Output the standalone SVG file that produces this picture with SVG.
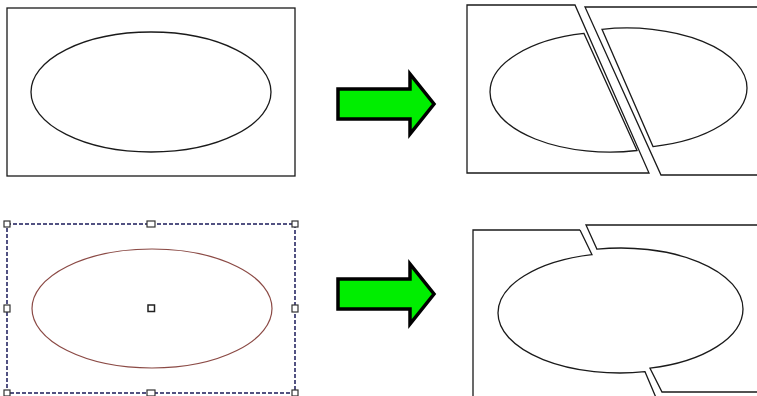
<svg xmlns="http://www.w3.org/2000/svg" width="757" height="396" viewBox="0 0 757 396">
<defs>
<style>
.ln{fill:none;stroke:#1a1a1a;stroke-width:1.3}
.pc{fill:#fff;stroke:#1a1a1a;stroke-width:1.3}
.sel{fill:none;stroke:#1a1a5a;stroke-width:1.5;stroke-dasharray:4 2}
.hd{fill:#fff;stroke:#333;stroke-width:1.2}
.arr{fill:#00ee00;stroke:#000;stroke-width:3.5;stroke-linejoin:miter}
.red{fill:none;stroke:#8b4a45;stroke-width:1.2}
</style>
<polygon id="arrowShape" points="0,15 72,15 72,0 96,30 72,60 72,45 0,45"/>
</defs>
<rect width="757" height="396" fill="#fff"/>

<g id="original">
<rect class="pc" x="7" y="8" width="288" height="168"/>
<ellipse class="ln" cx="151" cy="92" rx="120" ry="60"/>
</g>

<g id="split-diagonal">
<polygon class="pc" points="467,5 575,5 649,173 467,173"/>
<path class="ln" d="M584 33.4 A120 60 0 0 0 490 92 A120 60 0 0 0 637 150.5 Z"/>
<path class="pc" d="M760 7 L585 7 L661 175 L760 175"/>
<path class="ln" d="M602 29.3 A120 60 0 0 1 747 88 A120 60 0 0 1 653 146.6 Z"/>
</g>

<g id="selected">
<rect class="sel" x="7" y="224" width="288" height="169"/>
<ellipse class="red" cx="152" cy="308.5" rx="120" ry="59.5"/>
<rect class="hd" x="4" y="221" width="6" height="6"/>
<rect class="hd" x="147" y="221" width="8" height="6"/>
<rect class="hd" x="292" y="221" width="6" height="6"/>
<rect class="hd" x="4" y="305" width="6" height="7"/>
<rect class="hd" x="292" y="305" width="6" height="7"/>
<rect class="hd" x="4" y="390" width="6" height="6"/>
<rect class="hd" x="147" y="390" width="8" height="6"/>
<rect class="hd" x="292" y="390" width="6" height="6"/>
<rect x="148" y="305" width="6.5" height="6.5" fill="#fff" stroke="#222" stroke-width="1.5"/>
</g>

<g id="split-zigzag">
<path class="ln" d="M580 230 L473 230 L473 400"/>
<path class="ln" d="M580 230 L592 254.6 A122 60 0 0 0 498 313 A122 60 0 0 0 645 371.7 L657 400"/>
<path class="ln" d="M760 225 L586 225 L597 249.2 A122 61 0 0 1 743 309 A122 61 0 0 1 650 368.2 L662 392 L760 392"/>
</g>

<g id="connectors">
<use href="#arrowShape" x="338" y="74" class="arr"/>
<use href="#arrowShape" x="338" y="264" class="arr"/>
</g>
</svg>
